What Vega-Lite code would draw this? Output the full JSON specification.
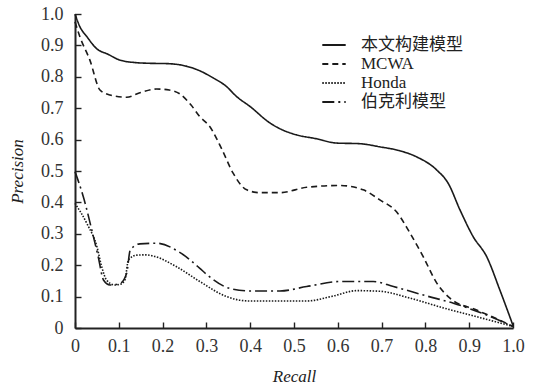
{
  "$schema": "https://vega.github.io/schema/vega-lite/v6.json",
  "autosize": "none",
  "width": 438,
  "height": 314,
  "padding": {"left": 75, "top": 14, "right": 22, "bottom": 57},
  "background": "white",
  "config": {
    "view": {"stroke": null},
    "font": "Times New Roman, Liberation Serif, DejaVu Serif, serif",
    "axis": {
      "grid": false,
      "domainColor": "#222",
      "domainWidth": 2,
      "tickColor": "#222",
      "tickWidth": 1.4,
      "tickSize": -6,
      "labelFont": "Times New Roman, Liberation Serif, DejaVu Serif, serif",
      "labelFontSize": 18,
      "labelColor": "#333",
      "titleFont": "Times New Roman, Liberation Serif, DejaVu Serif, serif",
      "titleFontSize": 17,
      "titleFontWeight": "normal",
      "titleFontStyle": "italic",
      "titleColor": "#222"
    }
  },
  "data": {
    "values": [
      {"s": "本文构建模型", "x": 0, "y": 1.0},
      {"s": "本文构建模型", "x": 0.011, "y": 0.96},
      {"s": "本文构建模型", "x": 0.027, "y": 0.928},
      {"s": "本文构建模型", "x": 0.05, "y": 0.889},
      {"s": "本文构建模型", "x": 0.075, "y": 0.872},
      {"s": "本文构建模型", "x": 0.103, "y": 0.853},
      {"s": "本文构建模型", "x": 0.14, "y": 0.845},
      {"s": "本文构建模型", "x": 0.17, "y": 0.843},
      {"s": "本文构建模型", "x": 0.21, "y": 0.842},
      {"s": "本文构建模型", "x": 0.24, "y": 0.838},
      {"s": "本文构建模型", "x": 0.28, "y": 0.822},
      {"s": "本文构建模型", "x": 0.316, "y": 0.796},
      {"s": "本文构建模型", "x": 0.345, "y": 0.77},
      {"s": "本文构建模型", "x": 0.369, "y": 0.737},
      {"s": "本文构建模型", "x": 0.4, "y": 0.705},
      {"s": "本文构建模型", "x": 0.445, "y": 0.653},
      {"s": "本文构建模型", "x": 0.475, "y": 0.63},
      {"s": "本文构建模型", "x": 0.506, "y": 0.615},
      {"s": "本文构建模型", "x": 0.55, "y": 0.603},
      {"s": "本文构建模型", "x": 0.597, "y": 0.589},
      {"s": "本文构建模型", "x": 0.65, "y": 0.587},
      {"s": "本文构建模型", "x": 0.696, "y": 0.577},
      {"s": "本文构建模型", "x": 0.74, "y": 0.565},
      {"s": "本文构建模型", "x": 0.78, "y": 0.545},
      {"s": "本文构建模型", "x": 0.826, "y": 0.503},
      {"s": "本文构建模型", "x": 0.852, "y": 0.461},
      {"s": "本文构建模型", "x": 0.879, "y": 0.376},
      {"s": "本文构建模型", "x": 0.909, "y": 0.291},
      {"s": "本文构建模型", "x": 0.94, "y": 0.227},
      {"s": "本文构建模型", "x": 0.97, "y": 0.121},
      {"s": "本文构建模型", "x": 1.0, "y": 0.008},
      {"s": "MCWA", "x": 0, "y": 0.975},
      {"s": "MCWA", "x": 0.011, "y": 0.928},
      {"s": "MCWA", "x": 0.034, "y": 0.853},
      {"s": "MCWA", "x": 0.057, "y": 0.758},
      {"s": "MCWA", "x": 0.08, "y": 0.742},
      {"s": "MCWA", "x": 0.118, "y": 0.735},
      {"s": "MCWA", "x": 0.15, "y": 0.75},
      {"s": "MCWA", "x": 0.186, "y": 0.761},
      {"s": "MCWA", "x": 0.215, "y": 0.758},
      {"s": "MCWA", "x": 0.24, "y": 0.745},
      {"s": "MCWA", "x": 0.265, "y": 0.71},
      {"s": "MCWA", "x": 0.285, "y": 0.673},
      {"s": "MCWA", "x": 0.308, "y": 0.641},
      {"s": "MCWA", "x": 0.335, "y": 0.57},
      {"s": "MCWA", "x": 0.361, "y": 0.493},
      {"s": "MCWA", "x": 0.392, "y": 0.44},
      {"s": "MCWA", "x": 0.422, "y": 0.431},
      {"s": "MCWA", "x": 0.468, "y": 0.431},
      {"s": "MCWA", "x": 0.529, "y": 0.448},
      {"s": "MCWA", "x": 0.605, "y": 0.454},
      {"s": "MCWA", "x": 0.658, "y": 0.44},
      {"s": "MCWA", "x": 0.696, "y": 0.408},
      {"s": "MCWA", "x": 0.734, "y": 0.37},
      {"s": "MCWA", "x": 0.765, "y": 0.302},
      {"s": "MCWA", "x": 0.795, "y": 0.227},
      {"s": "MCWA", "x": 0.826, "y": 0.143},
      {"s": "MCWA", "x": 0.856, "y": 0.095},
      {"s": "MCWA", "x": 0.917, "y": 0.057},
      {"s": "MCWA", "x": 0.97, "y": 0.025},
      {"s": "MCWA", "x": 1.0, "y": 0.005},
      {"s": "Honda", "x": 0, "y": 0.397},
      {"s": "Honda", "x": 0.027, "y": 0.333},
      {"s": "Honda", "x": 0.05, "y": 0.259},
      {"s": "Honda", "x": 0.061, "y": 0.195},
      {"s": "Honda", "x": 0.072, "y": 0.153},
      {"s": "Honda", "x": 0.091, "y": 0.137},
      {"s": "Honda", "x": 0.105, "y": 0.14},
      {"s": "Honda", "x": 0.114, "y": 0.153},
      {"s": "Honda", "x": 0.122, "y": 0.217},
      {"s": "Honda", "x": 0.141, "y": 0.232},
      {"s": "Honda", "x": 0.16, "y": 0.233},
      {"s": "Honda", "x": 0.179, "y": 0.229},
      {"s": "Honda", "x": 0.232, "y": 0.195},
      {"s": "Honda", "x": 0.285, "y": 0.148},
      {"s": "Honda", "x": 0.346, "y": 0.1},
      {"s": "Honda", "x": 0.4, "y": 0.086},
      {"s": "Honda", "x": 0.47, "y": 0.086},
      {"s": "Honda", "x": 0.529, "y": 0.086},
      {"s": "Honda", "x": 0.59, "y": 0.102},
      {"s": "Honda", "x": 0.643, "y": 0.119},
      {"s": "Honda", "x": 0.696, "y": 0.117},
      {"s": "Honda", "x": 0.765, "y": 0.095},
      {"s": "Honda", "x": 0.841, "y": 0.064},
      {"s": "Honda", "x": 0.917, "y": 0.036},
      {"s": "Honda", "x": 1.0, "y": 0.005},
      {"s": "伯克利模型", "x": 0, "y": 0.498},
      {"s": "伯克利模型", "x": 0.019, "y": 0.418},
      {"s": "伯克利模型", "x": 0.042, "y": 0.291},
      {"s": "伯克利模型", "x": 0.053, "y": 0.227},
      {"s": "伯克利模型", "x": 0.065, "y": 0.153},
      {"s": "伯克利模型", "x": 0.08, "y": 0.137},
      {"s": "伯克利模型", "x": 0.103, "y": 0.142},
      {"s": "伯克利模型", "x": 0.118, "y": 0.174},
      {"s": "伯克利模型", "x": 0.126, "y": 0.248},
      {"s": "伯克利模型", "x": 0.148, "y": 0.268},
      {"s": "伯克利模型", "x": 0.186, "y": 0.27},
      {"s": "伯克利模型", "x": 0.24, "y": 0.24},
      {"s": "伯克利模型", "x": 0.285, "y": 0.19},
      {"s": "伯克利模型", "x": 0.301, "y": 0.17},
      {"s": "伯克利模型", "x": 0.354, "y": 0.126},
      {"s": "伯克利模型", "x": 0.4, "y": 0.118},
      {"s": "伯克利模型", "x": 0.468, "y": 0.118},
      {"s": "伯克利模型", "x": 0.529, "y": 0.132},
      {"s": "伯克利模型", "x": 0.605, "y": 0.148},
      {"s": "伯克利模型", "x": 0.681, "y": 0.148},
      {"s": "伯克利模型", "x": 0.727, "y": 0.132},
      {"s": "伯克利模型", "x": 0.803, "y": 0.102},
      {"s": "伯克利模型", "x": 0.864, "y": 0.079},
      {"s": "伯克利模型", "x": 0.94, "y": 0.041},
      {"s": "伯克利模型", "x": 1.0, "y": 0.005}
    ]
  },
  "mark": {"type": "line", "interpolate": "monotone", "color": "#1a1a1a", "strokeWidth": 1.6},
  "encoding": {
    "x": {
      "field": "x", "type": "quantitative", "title": "Recall",
      "scale": {"domain": [0, 1], "nice": false},
      "axis": {"values": [0, 0.1, 0.2, 0.3, 0.4, 0.5, 0.6, 0.7, 0.8, 0.9, 1.0],
               "labelExpr": "datum.value == 0 ? '0' : format(datum.value, '.1f')",
               "labelFlush": false, "labelPadding": 15, "titlePadding": 13}
    },
    "y": {
      "field": "y", "type": "quantitative", "title": "Precision",
      "scale": {"domain": [0, 1], "nice": false},
      "axis": {"values": [0, 0.1, 0.2, 0.3, 0.4, 0.5, 0.6, 0.7, 0.8, 0.9, 1.0],
               "labelExpr": "datum.value == 0 ? '0' : format(datum.value, '.1f')",
               "labelFlush": false, "labelPadding": 18, "titlePadding": 14}
    },
    "strokeDash": {
      "field": "s", "type": "nominal",
      "scale": {
        "domain": ["本文构建模型", "MCWA", "Honda", "伯克利模型"],
        "range": [[1, 0], [6, 4], [1.5, 1.5], [12, 4, 2, 4]]
      },
      "legend": {
        "title": null,
        "orient": "none",
        "legendX": 249,
        "legendY": 21,
        "padding": 0,
        "symbolType": "M-1.3,0H1.3",
        "symbolSize": 324,
        "symbolStrokeWidth": 2,
        "symbolStrokeColor": "#1a1a1a",
        "labelFont": "Times New Roman, Liberation Serif, Noto Sans CJK SC, serif",
        "labelFontSize": 17,
        "labelColor": "#222",
        "labelOffset": 17,
        "rowPadding": 1,
        "labelLimit": 200
      }
    },
    "order": {"field": "x", "type": "quantitative"}
  }
}
